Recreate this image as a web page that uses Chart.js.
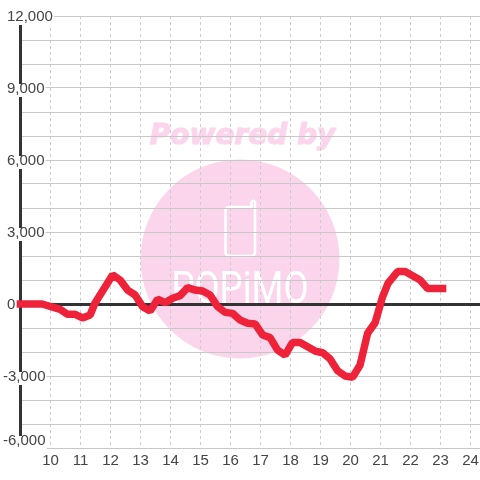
<!DOCTYPE html>
<html><head><meta charset="utf-8">
<style>html,body{margin:0;padding:0;background:#fff}canvas{display:block}</style>
<script src="https://cdn.jsdelivr.net/npm/chart.js@4"></script></head>
<body><div style="width:480px;height:480px;position:relative"><canvas id="c" width="480" height="480"></canvas></div>
<script>
const hours=[9,9.72,10.32,10.57,10.82,11.07,11.32,11.48,12.07,12.32,12.57,12.82,13.07,13.32,13.57,13.82,14.07,14.32,14.57,14.82,15.07,15.32,15.57,15.82,16.07,16.32,16.57,16.82,17.07,17.32,17.57,17.82,18.07,18.32,18.82,19.07,19.32,19.57,19.82,20.07,20.32,20.57,20.82,21.07,21.25,21.57,21.82,22.32,22.57,23.07];
const values=[0,0,-220,-430,-430,-580,-460,30,1210,1000,580,375,-110,-290,200,55,240,350,680,580,540,375,-110,-350,-390,-670,-800,-830,-1290,-1400,-1920,-2125,-1600,-1600,-1960,-2030,-2290,-2780,-3000,-3055,-2540,-1220,-780,300,860,1350,1350,1000,650,650];
const xTicks=[10,11,12,13,14,15,16,17,18,19,20,21,22,23,24];
const watermarkTop='Powered by';
const watermarkBrand='POPiMO';
const points=hours.map((h,i)=>({x:h,y:values[i]}));
const pink='#fbd5ec';
const labelFont='15px "Liberation Sans"';
const watermark={id:'watermark',beforeDraw(chart){
  const g=chart.ctx;g.save();
  g.fillStyle=pink;g.strokeStyle=pink;g.lineWidth=1.2;g.lineJoin='round';
  g.font='italic bold 28px "DejaVu Sans"';g.textAlign='center';g.textBaseline='middle';
  g.fillText(watermarkTop,242.5,137);
  g.strokeText(watermarkTop,242.5,137);
  g.beginPath();g.arc(240,259,99.5,0,Math.PI*2);g.fill();
  g.strokeStyle='#fff';g.lineWidth=2.6;
  g.beginPath();g.moveTo(251.5,207);g.lineTo(251.5,202);g.quadraticCurveTo(253.2,199.5,255,202);g.lineTo(255,252);g.quadraticCurveTo(255,256,251,256);g.lineTo(230,256);g.quadraticCurveTo(225.5,256,225.5,252);g.lineTo(225.5,211);g.quadraticCurveTo(225.5,207,230,207);g.closePath();g.stroke();
  g.fillStyle='#fff';g.font='400 44px Roboto';
  g.translate(240,292);g.scale(0.83,1);g.fillText(watermarkBrand,0,0);
  g.restore();
  const y=chart.scales.y;
  g.save();g.font=labelFont;
  y.getLabelItems(chart.chartArea).forEach(it=>{
    const s=String(it.label);
    const o=it.options;
    if(!s){o.backdrop=undefined;return;}
    const nx=s.startsWith('-')?3:7;
    const ny=s==='-6,000'?441:y.getPixelForValue(Number(s.replace(',','')))+1;
    o.translation=[nx,ny];
    o.backdrop={left:-1,top:-5,width:g.measureText(s).width+2,height:13,color:'#fff'};
  });
  g.restore();
}};
new Chart(document.getElementById('c'),{
  type:'line',
  data:{datasets:[{data:points,borderColor:'#ee2238',borderWidth:7.5,borderCapStyle:'square',borderJoinStyle:'bevel',pointRadius:0,tension:0,clip:false,fill:false}]},
  plugins:[watermark],
  options:{
    responsive:false,animation:false,
    layout:{padding:{left:20.5,top:16,right:0,bottom:0}},
    plugins:{legend:{display:false},title:{display:false},tooltip:{enabled:false}},
    scales:{
      x:{type:'linear',min:9,max:24.317,
        afterBuildTicks(s){s.ticks=[9,...xTicks].map(v=>({value:v}));},
        afterFit(s){s.height=32;s.paddingRight=0;s.paddingLeft=0;},
        ticks:{includeBounds:false,autoSkip:false,maxRotation:0,padding:4,color:'#444',font:{family:'"Liberation Sans"',size:15},callback:v=>v===9?'':String(v)},
        grid:{color:'#ccc',lineWidth:1,drawTicks:false},
        border:{display:false,dash:[3,3]}
      },
      y:{type:'linear',min:-6000,max:12000,
        afterBuildTicks(s){const t=[];for(let v=-6000;v<=12000;v+=1000)t.push({value:v});s.ticks=t;},
        ticks:{mirror:true,crossAlign:'near',padding:0,autoSkip:false,color:'#444',font:{family:'"Liberation Sans"',size:15},
          showLabelBackdrop:true,backdropColor:'#fff',backdropPadding:0,
          callback:v=>v%3000===0?v.toLocaleString('en-US'):''},
        grid:{drawTicks:false,color:c=>c.tick&&c.tick.value===0?'#333':'#c8c8c8',lineWidth:c=>c.tick&&c.tick.value===0?3:1},
        border:{display:true,color:'#333',width:3}
      }
    }
  }
});
</script></body></html>
